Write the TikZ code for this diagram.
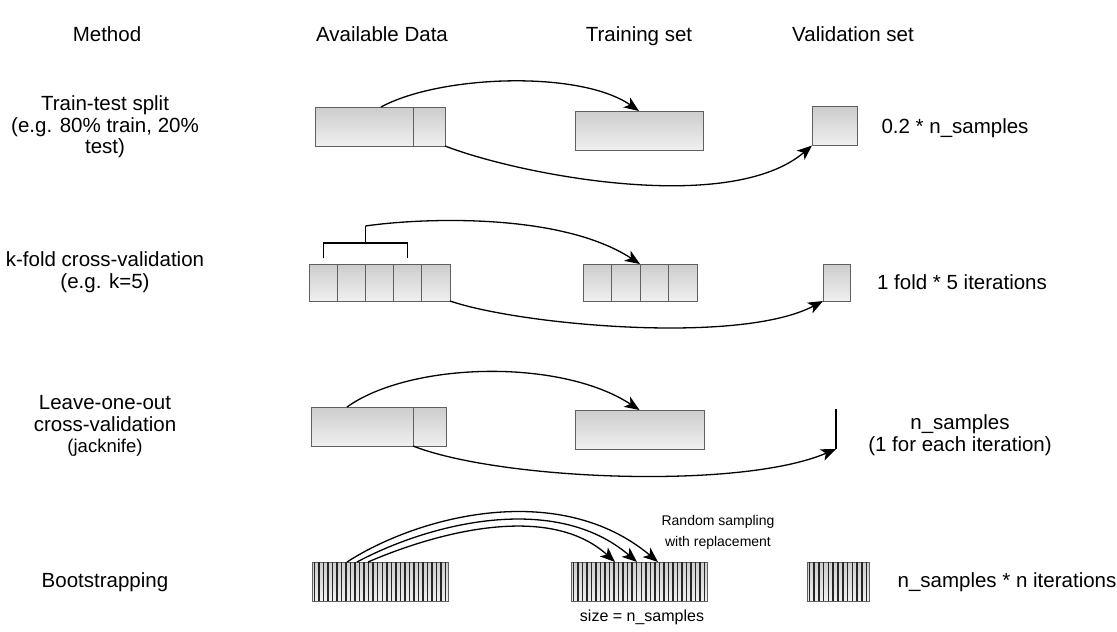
\documentclass[tikz,border=0pt]{standalone}
\usepackage{fontspec}
\setmainfont{Liberation Sans}
\usetikzlibrary{arrows.meta,calc,positioning}

\tikzset{
  box/.style={draw=gray!75!black, line width=0.8pt, top color=gray!40, bottom color=gray!12,
    minimum height=39pt, inner sep=0pt, outer sep=0pt},
  stripe/.style={line width=1.5pt, black!85},
  bracket/.style={line width=1.1pt},
  arr/.style={line width=1.3pt, -{Stealth[length=15pt,width=12pt,inset=4pt]}},
  lbl/.style={font=\fontsize{20.5}{21.5}\selectfont, align=center, inner sep=0pt},
  head/.style={lbl, anchor=base},
  small/.style={font=\fontsize{14}{21}\selectfont, align=center, inner sep=0pt},
}

\begin{document}
\begin{tikzpicture}[x=1pt,y=-1pt]
  \useasboundingbox (0,0) rectangle (1117,632);

  % column heads
  \node[head] (h-meth) at (107,41) {Method};
  \node[head] (h-avail) at (382,41) {Available Data};
  \node[head] (h-train) at (639,41) {Training set};
  \node[head] (h-val) at (853,41) {Validation set};

  % train-test split
  \node[lbl] (tt-name) at (105,127) {Train-test split\\(e.g. 80\% train, 20\%\\test)};
  \node[box, minimum width=98pt, anchor=north west] (tt-a1) at (315,107) {};
  \node[box, minimum width=32pt, anchor=west] (tt-a2) at (tt-a1.east) {};
  \node[box, minimum width=128pt] (tt-tr) at (639,130.5) {};
  \node[box, minimum width=45pt] (tt-va) at (834.5,126) {};
  \node[head] (tt-note) at (955,133) {0.2 * n\_samples};
  \draw[arr] ([xshift=17pt]tt-a1.north) .. controls +(59,-32) and +(-59,-41) .. (tt-tr.north);
  \draw[arr] (tt-a2.south east) .. controls +(75,29) and +(-82,70) .. (tt-va.south west);

  % k-fold
  \node[lbl] (kf-name) at (105,272) {k-fold cross-validation\\(e.g. k=5)};
  \foreach \i in {1,...,5}
    \node[box, minimum width=28.2pt, minimum height=37pt] (kf-a\i) at ({294.9+28.2*\i},282.5) {};
  \foreach \i in {1,...,4}
    \node[box, minimum width=28.5pt, minimum height=37pt] (kf-tr\i) at ({568.75+28.5*\i},282.5) {};
  \node[box, minimum width=27pt, minimum height=37pt] (kf-va) at (836.5,282.5) {};
  \node[head] (kf-note) at (962,289) {1 fold * 5 iterations};
  \coordinate (kf-stem) at ($([yshift=21pt]kf-a1.north)!0.5!([yshift=21pt]kf-a4.north)$);
  \coordinate[above=17pt of kf-stem] (kf-top);
  \draw[bracket] ([yshift=6pt]kf-a1.north) |- (kf-stem) -| ([yshift=6pt]kf-a4.north);
  \draw[bracket] (kf-stem) -- (kf-top);
  \draw[arr] (kf-top) .. controls +(55,-8) and +(-80,-52) .. (kf-tr2.north east);
  \draw[arr] (kf-a5.south east) .. controls +(70,24) and +(-83,44) .. (kf-va.south west);

  % leave-one-out
  \node[lbl] (lo-name) at (105,426) {Leave-one-out\\cross-validation\\{\fontsize{18.5}{21}\selectfont (jacknife)}};
  \node[box, minimum width=102pt, anchor=north west] (lo-a1) at (311,407) {};
  \node[box, minimum width=33pt, anchor=west] (lo-a2) at (lo-a1.east) {};
  \node[box, minimum width=129pt] (lo-tr) at (639.5,429.5) {};
  \coordinate (lo-vtop) at (836,409);
  \coordinate (lo-vbot) at (836,449);
  \draw[line width=2.6pt] (lo-vtop) -- (lo-vbot);
  \node[lbl] (lo-note) at (960,435) {n\_samples\\(1 for each iteration)};
  \draw[arr] ([xshift=-15pt]lo-a1.north) .. controls +(63,-45) and +(-79.5,-52) .. (lo-tr.north);
  \draw[arr] (lo-a2.south west) .. controls +(87,34) and +(-96,41) .. (lo-vbot);

  % bootstrapping
  \node[head] (bs-name) at (105,587) {Bootstrapping};
  \node[box, minimum width=136pt] (bs-a) at (380,581.5) {};
  \node[box, minimum width=136pt] (bs-tr) at (639,581.5) {};
  \node[box, minimum width=62pt] (bs-va) at (838,581.5) {};
  \foreach \n/\k in {bs-a/30, bs-tr/30, bs-va/13} {
    \foreach \j in {1,...,\k}
      \draw[stripe] ($(\n.south west)!{(\j-0.5)/\k}!(\n.south east)$) -- ($(\n.north west)!{(\j-0.5)/\k}!(\n.north east)$);
  }
  \node[head] (bs-note) at (1007,587) {n\_samples * n iterations};
  \node[small] (bs-rand) at (718,532) {Random sampling\\with replacement};
  \node[lbl, font=\fontsize{16}{18}\selectfont] (bs-size) at (642,617) {size = n\_samples};
  \foreach \s/\e/\ax/\ay/\bx/\by in {35/87/73/-47/-98/-82, 45/66/73/-39/-82/-70, 56/44/72/-31/-65/-59}
    \draw[arr] ([xshift=\s pt]bs-a.north west) .. controls +(\ax,\ay) and +(\bx,\by) .. ([xshift=\e pt]bs-tr.north west);
\end{tikzpicture}
\end{document}
